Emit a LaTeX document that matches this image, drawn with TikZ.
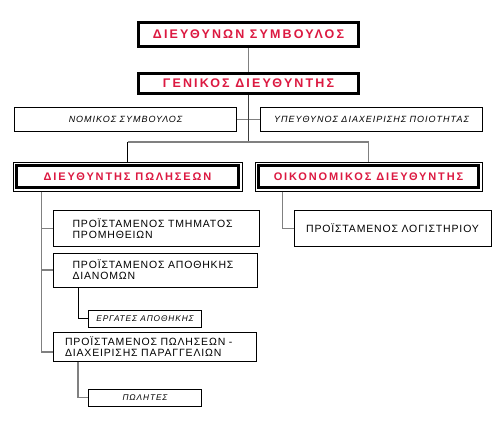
\documentclass[tikz,border=0pt]{standalone}
\usepackage{fontspec}
\setmainfont{Liberation Sans}
\newfontfamily\redfont[LetterSpace=17]{Liberation Sans Bold}
\newfontfamily\plainfont[LetterSpace=8]{Liberation Sans}
\newfontfamily\itfont[LetterSpace=11]{Liberation Sans Italic}
\definecolor{crim}{RGB}{220,25,65}
\definecolor{cgray}{RGB}{128,128,128}
\definecolor{cdark}{RGB}{60,60,60}
\tikzset{
  topbox/.style={draw=black, line width=3pt, fill=white, inner sep=0pt,
     font=\redfont\fontsize{12.5}{14}\selectfont, text=crim},
  headbox/.style={draw=black, line width=2.5pt, fill=white, inner sep=0pt,
     font=\redfont\fontsize{11}{13}\selectfont, text=crim},
  outerbox/.style={draw=black, line width=1pt, inner sep=0pt},
  staffbox/.style={draw=black, line width=1pt, fill=white, inner sep=0pt,
     font=\itfont\fontsize{9}{10}\selectfont},
  smallstaff/.style={staffbox, font=\itfont\fontsize{8.3}{10}\selectfont},
  unitbox/.style={draw=black, line width=1pt, fill=white, inner sep=0pt, align=left,
     font=\plainfont\fontsize{10.5}{11}\selectfont},
  conn/.style={draw=cgray, line width=1.5pt},
  connd/.style={draw=cdark, line width=1.5pt},
  connb/.style={draw=black, line width=1pt}
}
\begin{document}
\begin{tikzpicture}[x=1pt,y=-1pt]
\useasboundingbox (0,0) rectangle (504,424);
\node[topbox, minimum width=220, minimum height=24] (ceo) at (248.5,34.5) {ΔΙΕΥΘΥΝΩΝ ΣΥΜΒΟΥΛΟΣ};
\node[topbox, minimum width=220, minimum height=20] (gm) at (248.5,83.5) {ΓΕΝΙΚΟΣ ΔΙΕΥΘΥΝΤΗΣ};
\node[staffbox, minimum width=222, minimum height=24] (legal) at (125.5,119.5) {ΝΟΜΙΚΟΣ ΣΥΜΒΟΥΛΟΣ};
\node[staffbox, minimum width=222, minimum height=24] (qual) at (371.5,119.5) {ΥΠΕΥΘΥΝΟΣ ΔΙΑΧΕΙΡΙΣΗΣ ΠΟΙΟΤΗΤΑΣ};
\node[outerbox, minimum width=229, minimum height=29] (salesO) at (127.5,176.5) {};
\node[outerbox, minimum width=227, minimum height=29] (finO) at (368.5,176.5) {};
\node[headbox, minimum width=222, minimum height=22] (sales) at (127.5,176.5) {ΔΙΕΥΘΥΝΤΗΣ ΠΩΛΗΣΕΩΝ};
\node[headbox, minimum width=220, minimum height=22] (fin) at (368.5,176.5) {ΟΙΚΟΝΟΜΙΚΟΣ ΔΙΕΥΘΥΝΤΗΣ};
\node[unitbox, minimum width=206, minimum height=36, text width=168] (purch) at (156.5,228.5) {ΠΡΟΪΣΤΑΜΕΝΟΣ ΤΜΗΜΑΤΟΣ\\ΠΡΟΜΗΘΕΙΩΝ};
\node[unitbox, minimum width=204, minimum height=34, text width=166] (store) at (155.5,270) {ΠΡΟΪΣΤΑΜΕΝΟΣ ΑΠΟΘΗΚΗΣ\\ΔΙΑΝΟΜΩΝ};
\node[smallstaff, minimum width=113, minimum height=17] (work) at (145,318.5) {ΕΡΓΑΤΕΣ ΑΠΟΘΗΚΗΣ};
\node[unitbox, minimum width=203, minimum height=29, text width=180] (order) at (155,346.5) {ΠΡΟΪΣΤΑΜΕΝΟΣ ΠΩΛΗΣΕΩΝ -\\ΔΙΑΧΕΙΡΙΣΗΣ ΠΑΡΑΓΓΕΛΙΩΝ};
\node[smallstaff, minimum width=113, minimum height=17] (sellers) at (145,397.5) {ΠΩΛΗΤΕΣ};
\node[unitbox, minimum width=197, minimum height=36, text width=180, align=center] (acct) at (392.5,228.5) {ΠΡΟΪΣΤΑΜΕΝΟΣ ΛΟΓΙΣΤΗΡΙΟΥ};
% connectors
\coordinate (hub) at (gm.south |- 0,142);
\draw[conn] (ceo.south) -- (gm.north);
\draw[conn] (legal.east) -- (qual.west);
\draw[connd] (gm.south) -- (hub);
\draw[conn] (salesO.north |- hub) -- (finO.north |- hub);
\draw[connb] (salesO.north |- hub) -- (salesO.north);
\draw[conn] (finO.north |- hub) -- (finO.north);
\coordinate (lt) at ([xshift=29]salesO.south west);
\coordinate (ltend) at (lt |- 0,352);
\draw[conn] (lt) -- (ltend) -- (order.west |- ltend);
\draw[conn] (lt |- purch.west) -- (purch.west);
\draw[conn] (lt |- store.west) -- (store.west);
\draw[connb] ([xshift=25]store.south west) |- (work.west);
\draw[conn] ([xshift=25]order.south west) |- (sellers.west);
\draw[conn] ([xshift=28]finO.south west) |- (acct.west);
\end{tikzpicture}
\end{document}
